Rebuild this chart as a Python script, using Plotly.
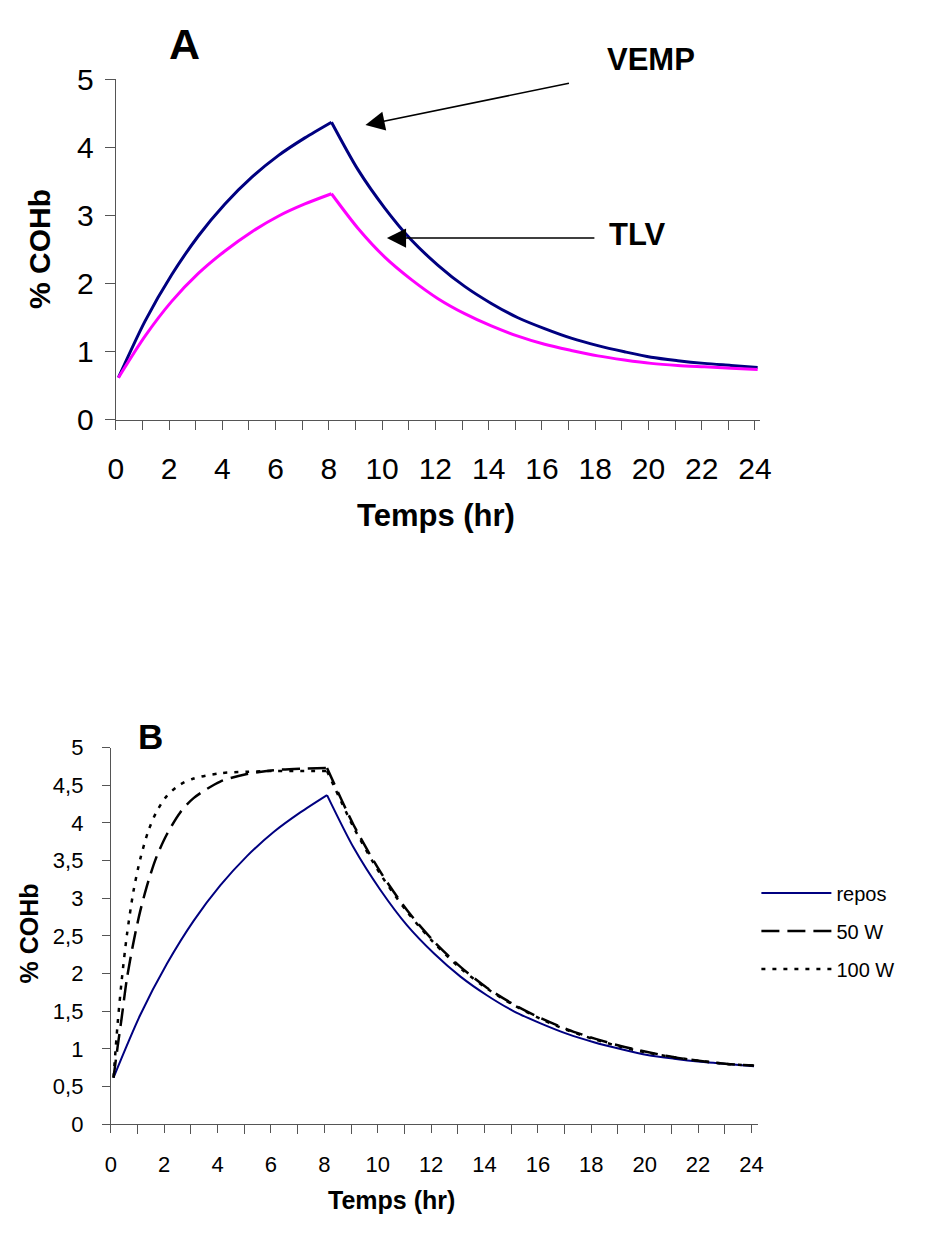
import plotly.graph_objects as go

# ---------------- data ----------------
# Chart A (hours)
t_a = [0.1, 1.1, 2.1, 3.1, 4.1, 5.1, 6.1, 7.1, 8.1, 9.1, 10.1, 11.1, 12.1,
       13.1, 14.1, 15.1, 16.1, 17.1, 18.1, 19.1, 20.1, 21.1, 22.1, 23.1, 24.1]
vemp = [0.62, 1.45, 2.13, 2.70, 3.17, 3.56, 3.88, 4.14, 4.37, 3.67, 3.11, 2.64, 2.27,
        1.96, 1.71, 1.50, 1.34, 1.20, 1.09, 1.00, 0.92, 0.87, 0.83, 0.80, 0.77]
tlv = [0.62, 1.23, 1.74, 2.15, 2.48, 2.76, 2.99, 3.17, 3.32, 2.81, 2.39, 2.06, 1.78,
       1.56, 1.38, 1.23, 1.11, 1.02, 0.94, 0.88, 0.83, 0.80, 0.78, 0.76, 0.74]
peak_a = 8  # index of the end of exposure (8.1 h)

# Chart B
t_repos = t_a
repos = [0.62, 1.45, 2.13, 2.70, 3.17, 3.56, 3.88, 4.14, 4.37, 3.67, 3.11, 2.64, 2.27,
         1.96, 1.71, 1.50, 1.34, 1.20, 1.09, 1.00, 0.92, 0.87, 0.83, 0.80, 0.77]
t_ex = [0.1, 0.25, 0.4, 0.6, 0.85, 1.1, 1.4, 1.7, 2.1, 2.6, 3.1, 4.1, 5.1, 6.1, 7.1, 8.1,
        9.1, 10.1, 11.1, 12.1, 13.1, 14.1, 15.1, 16.1, 17.1, 18.1, 19.1, 20.1, 21.1, 22.1, 23.1, 24.1]
w50 = [0.62, 1.02, 1.40, 1.93, 2.42, 2.83, 3.22, 3.54, 3.85, 4.14, 4.33, 4.55, 4.65, 4.70, 4.72, 4.73,
       3.97, 3.35, 2.84, 2.43, 2.09, 1.81, 1.59, 1.41, 1.26, 1.14, 1.04, 0.96, 0.89, 0.84, 0.80, 0.78]
w100 = [0.62, 1.32, 1.89, 2.51, 3.10, 3.52, 3.89, 4.14, 4.36, 4.51, 4.59, 4.66, 4.68, 4.69, 4.69, 4.69,
        3.94, 3.32, 2.82, 2.41, 2.07, 1.80, 1.58, 1.40, 1.25, 1.13, 1.03, 0.95, 0.89, 0.84, 0.80, 0.78]
peak_ex = 15  # index of 8.1 h in t_ex

yticks_a = [0, 1, 2, 3, 4, 5]
yticks_b = [0, 0.5, 1, 1.5, 2, 2.5, 3, 3.5, 4, 4.5, 5]
yticktext_b = ["0", "0,5", "1", "1,5", "2", "2,5", "3", "3,5", "4", "4,5", "5"]

FONT = "Arial, Liberation Sans, sans-serif"
AX = "#555555"
W, H = 930, 1234

def px(x):
    return x / W

def py(y):
    return 1 - y / H

fig = go.Figure()

def add_series(x, y, k, line, xa, ya, name=None, group=None, legend=False):
    # exposure phase and elimination phase drawn as two smooth pieces meeting at the peak
    for i, (xs, ys) in enumerate([(x[:k + 1], y[:k + 1]), (x[k:], y[k:])]):
        fig.add_trace(go.Scatter(x=xs, y=ys, mode="lines", line=dict(shape="spline", smoothing=0.8, **line),
                                 name=name, legendgroup=group, showlegend=(legend and i == 0),
                                 xaxis=xa, yaxis=ya))

add_series(t_a, vemp, peak_a, dict(color="#000080", width=3), "x", "y")
add_series(t_a, tlv, peak_a, dict(color="#FF00FF", width=3), "x", "y")

add_series(t_repos, repos, peak_a, dict(color="#000080", width=2), "x2", "y2", "repos", "a", True)
add_series(t_ex, w50, peak_ex, dict(color="black", width=2.5, dash="18px,8px"), "x2", "y2", "50 W", "b", True)
add_series(t_ex, w100, peak_ex, dict(color="black", width=2.5, dash="4px,7px"), "x2", "y2", "100 W", "c", True)

common_x = dict(showline=True, linecolor=AX, linewidth=1, showgrid=False, zeroline=False,
                ticks="outside", tickcolor=AX, tickwidth=1, tickmode="linear", tick0=0, dtick=2,
                minor=dict(ticks="outside", dtick=1, tick0=0, tickcolor=AX, ticklen=9, tickwidth=1, showgrid=False))
common_y = dict(showline=True, linecolor=AX, linewidth=1, showgrid=False, zeroline=False,
                ticks="outside", tickcolor=AX, tickwidth=1)

fig.update_layout(
    width=W, height=H, margin=dict(l=0, r=0, t=0, b=0),
    paper_bgcolor="white", plot_bgcolor="white",
    font=dict(family=FONT, color="black"),
    xaxis=dict(domain=[px(110), px(768)], anchor="y", range=[0, 24.2], ticklen=9,
               tickfont=dict(size=30), ticklabelstandoff=13, **common_x),
    yaxis=dict(domain=[py(414), py(64)], anchor="x", range=[0, 5], tickvals=yticks_a,
               ticklen=10, tickfont=dict(size=30), ticklabelstandoff=5, **common_y),
    xaxis2=dict(domain=[px(105), px(765.7)], anchor="y2", range=[0, 24.25], ticklen=8,
                tickfont=dict(size=22), ticklabelstandoff=12, **common_x),
    yaxis2=dict(domain=[py(1137.7), py(750.7)], anchor="x2", range=[0, 5], tickvals=yticks_b,
                ticktext=yticktext_b, ticklen=8, tickfont=dict(size=22), ticklabelstandoff=14, **common_y),
    legend=dict(x=px(764), xanchor="left", y=py(880), yanchor="top", font=dict(size=20),
                bgcolor="rgba(0,0,0,0)", tracegroupgap=9, itemwidth=70),
)

ann = []
def text(t, x, y, size, angle=0):
    ann.append(dict(text="<b>%s</b>" % t, x=px(x), y=py(y), xref="paper", yref="paper",
                    showarrow=False, xanchor="center", yanchor="middle", textangle=angle,
                    font=dict(size=size, family=FONT, color="black")))

text("A", 180, 28, 43)
text("VEMP", 656, 44, 31)
text("TLV", 643, 223, 31)
text("Temps (hr)", 437, 512, 31)
text("% COHb", 32, 238, 30, -90)
text("B", 145, 739, 35)
text("Temps (hr)", 392, 1216, 25)
text("% COHb", 21, 942, 25, -90)

ann.append(dict(x=9.375, y=4.33, xref="x", yref="y", ax=205, ay=-42, text="", showarrow=True,
                arrowhead=2, arrowsize=2.4, arrowwidth=1.6, arrowcolor="black", standoff=0))
ann.append(dict(x=10.18, y=2.67, xref="x", yref="y", ax=209, ay=0, text="", showarrow=True,
                arrowhead=2, arrowsize=2.4, arrowwidth=1.6, arrowcolor="black", standoff=0))

fig.update_layout(annotations=ann)
fig.write_html("out.html")
